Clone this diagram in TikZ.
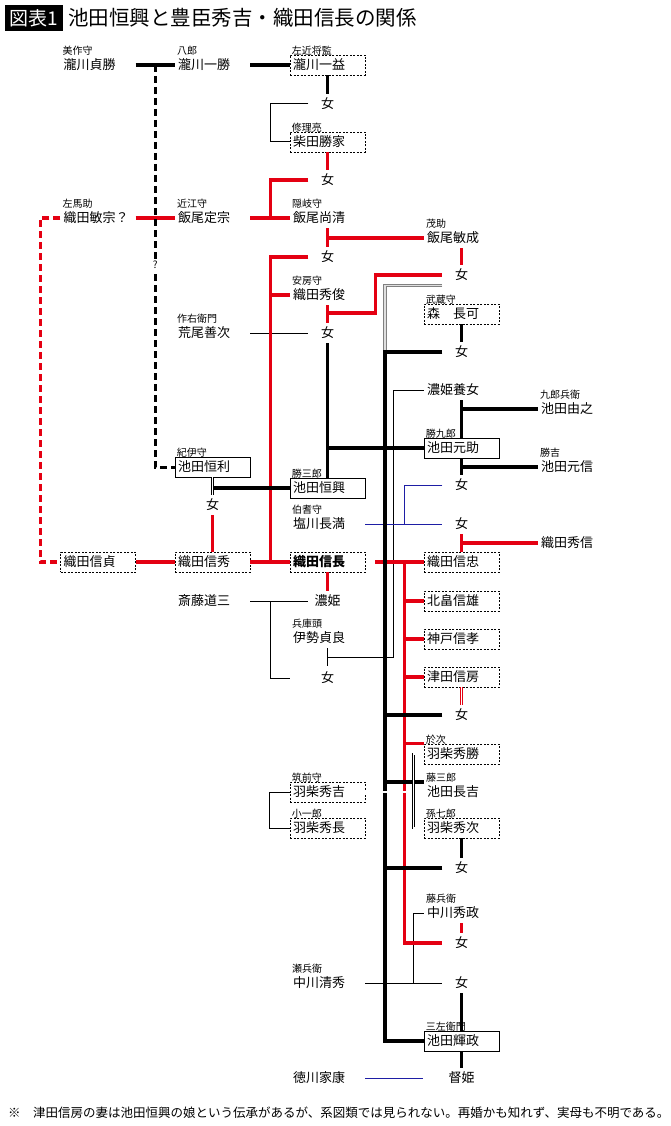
\documentclass[tikz,border=0pt]{standalone}
\usepackage{fontspec}
\setmainfont{Noto Sans CJK JP}
\usetikzlibrary{positioning}
\definecolor{jred}{RGB}{228,0,18}
\definecolor{jblue}{RGB}{30,30,165}
\newcommand\nmfont{\fontsize{13}{14}\selectfont}
\newcommand\lbfont{\fontsize{10}{11}\selectfont}

\begin{document}
\begin{tikzpicture}[x=1pt, y=-1pt,
  nm/.style={inner xsep=3pt, inner ysep=0pt, text width=69pt, align=left, minimum height=20pt, font=\nmfont},
  dbox/.style={nm, draw, line width=0.7pt, dash pattern=on 2pt off 1.5pt},
  sbox/.style={nm, draw, line width=0.7pt},
  fem/.style={inner sep=0pt, minimum width=38pt, minimum height=20pt, font=\nmfont},
  lbl/.style={anchor=west, inner sep=0pt, xshift=2pt, yshift=4pt, font=\lbfont},
  bk/.style={line width=3.6pt},
  rd/.style={line width=3.6pt, jred},
  tn/.style={line width=1pt},
  bu/.style={line width=1pt, jblue},
  dl/.style={double, double distance=1.4pt, line width=0.6pt}
  ]
  \useasboundingbox (0,0) rectangle (670,1126);
  % title
  \node[fill=black, text=white, font=\fontsize{19}{20}\selectfont, minimum width=58pt, minimum height=26pt, inner sep=0pt] (tag) at (34,18) {図表1};
  \node[anchor=west, inner sep=0pt, font=\fontsize{20.5}{22}\selectfont] (title) at (68,18) {池田恒興と豊臣秀吉・織田信長の関係};

  % column A (x 98)
  \node[nm, label={[lbl]north west:美作守}] (sadakatsu) at (98,65) {瀧川貞勝};
  \node[nm, label={[lbl]north west:左馬助}] (toshimune) at (98,218) {織田敏宗？};
  \node[dbox] (nobusada) at (98,562) {織田信貞};
  % column B (x 212.5)
  \node[nm, label={[lbl]north west:八郎}] (kazukatsu) at (212.5,65) {瀧川一勝};
  \node[nm, label={[lbl]north west:近江守}] (sadamune) at (212.5,218) {飯尾定宗};
  \node[nm, label={[lbl]north west:作右衛門}] (yoshitsugu) at (212.5,333) {荒尾善次};
  \node[sbox, label={[lbl]north west:紀伊守}] (tsunetoshi) at (212.5,467) {池田恒利};
  \node[fem] (f_tsune) at (212.5,505) {女};
  \node[dbox] (nobuhide) at (212.5,562) {織田信秀};
  \node[nm] (dosan) at (212.5,601) {斎藤道三};
  % column C (x 327.5)
  \node[dbox, label={[lbl]north west:左近将監}] (kazumasu) at (327.5,65) {瀧川一益};
  \node[fem] (f_taki) at (327.5,104) {女};
  \node[dbox, label={[lbl]north west:修理亮}] (katsuie) at (327.5,142) {柴田勝家};
  \node[fem] (f_shiba) at (327.5,180) {女};
  \node[nm, label={[lbl]north west:隠岐守}] (hisakiyo) at (327.5,218) {飯尾尚清};
  \node[fem] (f_iio) at (327.5,257) {女};
  \node[nm, label={[lbl]north west:安房守}] (hidetoshi) at (327.5,295) {織田秀俊};
  \node[fem] (f_arao) at (327.5,333) {女};
  \node[sbox, label={[lbl]north west:勝三郎}] (tsuneoki) at (327.5,488) {池田恒興};
  \node[nm, label={[lbl]north west:伯耆守}] (nagamitsu) at (327.5,524) {塩川長満};
  \node[dbox, font=\nmfont\bfseries] (nobunaga) at (327.5,562) {織田信長};
  \node[fem] (nohime) at (327.5,601) {濃姫};
  \node[nm, label={[lbl]north west:兵庫頭}] (sadayoshi) at (327.5,638) {伊勢貞良};
  \node[fem] (f_dosan) at (327.5,678) {女};
  \node[dbox, label={[lbl]north west:筑前守}] (hideyoshi) at (327.5,792) {羽柴秀吉};
  \node[dbox, label={[lbl]north west:小一郎}] (hidenaga) at (327.5,828) {羽柴秀長};
  \node[nm, label={[lbl]north west:瀬兵衛}] (kiyohide) at (327.5,983) {中川清秀};
  \node[nm] (ieyasu) at (327.5,1078) {徳川家康};
  % column D (x 461.5)
  \node[nm, label={[lbl]north west:茂助}] (toshinari) at (461.5,238) {飯尾敏成};
  \node[fem] (f_toshi) at (461.5,275) {女};
  \node[dbox, label={[lbl]north west:武蔵守}] (morinaga) at (461.5,314) {森　長可};
  \node[fem] (f_mori) at (461.5,352) {女};
  \node[nm] (yojo) at (461.5,390) {濃姫養女};
  \node[sbox, label={[lbl]north west:勝九郎}] (motosuke) at (461.5,448) {池田元助};
  \node[fem] (f_moto) at (461.5,485) {女};
  \node[fem] (f_shio) at (461.5,524) {女};
  \node[dbox] (nobutada) at (461.5,562) {織田信忠};
  \node[dbox] (nobukatsu) at (461.5,601) {北畠信雄};
  \node[dbox] (nobutaka) at (461.5,639) {神戸信孝};
  \node[dbox] (nobufusa) at (461.5,677) {津田信房};
  \node[fem] (f_fusa) at (461.5,715) {女};
  \node[dbox, label={[lbl]north west:於次}] (hidekatsu) at (461.5,754) {羽柴秀勝};
  \node[nm, label={[lbl]north west:藤三郎}] (nagayoshi) at (461.5,792) {池田長吉};
  \node[dbox, label={[lbl]north west:孫七郎}] (hidetsugu) at (461.5,828) {羽柴秀次};
  \node[fem] (f_tsugu) at (461.5,868) {女};
  \node[nm, label={[lbl]north west:藤兵衛}] (hidemasa) at (461.5,913) {中川秀政};
  \node[fem] (f_masa) at (461.5,943) {女};
  \node[fem] (f_kiyo) at (461.5,983) {女};
  \node[sbox, label={[lbl]north west:三左衛門}] (terumasa) at (461.5,1041) {池田輝政};
  \node[fem] (tokuhime) at (461.5,1078) {督姫};
  % column E (x 575.5)
  \node[nm, label={[lbl]north west:九郎兵衛}] (yoshiyuki) at (575.5,409) {池田由之};
  \node[nm, label={[lbl]north west:勝吉}] (motonobu) at (575.5,467) {池田元信};
  \node[nm] (hidenobu) at (575.5,543) {織田秀信};

  % thin lines
  \draw[tn] (f_taki.west) -- ++(-38,0) |- (katsuie.west);
  \draw[tn] (yoshitsugu.east) -- (f_arao.west);
  \draw[tn] (dosan.east) -- (nohime.west);
  \draw[tn] (dosan.east) ++(20,0) |- ([xshift=-18.5pt]f_dosan.west);
  \path (sadayoshi.south) ++(0,9) coordinate (sy);
  \draw[tn] (sadayoshi.south) -- ++(0,18);
  \draw[tn] (yojo.west) -- ++(-30,0) |- (sy);
  \draw[tn] (hideyoshi.west) -- ++(-20,0) |- (hidenaga.west);
  \draw[tn] (hidemasa.west) -- ++(-10,0) |- (f_kiyo.west);
  \draw[tn] (kiyohide.east) -- (f_kiyo.west);
  \draw[bu] (f_moto.west) -- ++(-38,0) |- (f_shio.west);
  \draw[bu] (nagamitsu.east) -- (f_shio.west);
  \draw[bu] (ieyasu.east) -- ([xshift=-19pt]tokuhime.west);

  % red lines
  \draw[rd] (katsuie.south) -- (f_shiba.north);
  \draw[rd] (f_shiba.west) -- ++(-38,0) -- ++(0,38);
  \draw[rd] (toshimune.east) -- (sadamune.west);
  \draw[rd] (sadamune.east) -- (hisakiyo.west);
  \draw[rd, dash pattern=on 7pt off 4pt] (toshimune.west) -- ++(-20,0) |- (nobusada.west);
  \draw[rd] (hisakiyo.south) -- (f_iio.north);
  \draw[rd] (hisakiyo.south |- toshinari.west) -- (toshinari.west);
  \draw[rd] (toshinari.south) -- (f_toshi.north);
  \draw[rd] (f_iio.west) -- ++(-38,0) |- (nobunaga.west);
  \draw[rd] (hidetoshi.west) -- ++(-20,0);
  \draw[rd] (hidetoshi.south) -- (f_arao.north);
  \draw[rd] (hidetoshi.south) ++(0,8) -- ++(48,0) |- (f_toshi.west);
  \draw[rd] (f_tsune.south) -- (nobuhide.north);
  \draw[rd] (nobusada.east) -- (nobuhide.west);
  \draw[rd] (nobuhide.east) -- (nobunaga.west);
  \draw[rd] (nobunaga.south) -- (nohime.north);
  \draw[rd] (f_shio.south) -- (nobutada.north);
  \draw[rd] (f_shio.south |- hidenobu.west) -- (hidenobu.west);
  \draw[rd] ([xshift=10pt]nobunaga.east) -- (nobutada.west);
  \draw[rd] (nobutada.west) ++(-19,0) |- (f_masa.west);
  \foreach \n in {nobukatsu,nobutaka,nobufusa}
    \draw[rd] (\n.west) -- ++(-19,0);
  \draw[rd] (hidekatsu.north west) -- ++(-19,0);
  \draw[rd] (hidemasa.south) -- (f_masa.north);
  \draw[dl, draw=jred] (nobufusa.south) -- (f_fusa.north);

  % black lines
  \draw[bk] (sadakatsu.east) -- coordinate[pos=.5] (tk) (kazukatsu.west);
  \draw[bk, dash pattern=on 7pt off 4pt, line width=3pt] (tk) |- (tsunetoshi.west);
  \node[font=\lbfont, fill=white, inner sep=1pt] (qm) at (155.25,265) {?};
  \draw[bk] (kazukatsu.east) -- (kazumasu.west);
  \draw[bk] (kazumasu.south) -- (f_taki.north);
  \draw[bk] (f_arao.south) -- (tsuneoki.north);
  \draw[bk] (tsuneoki.north |- motosuke.west) -- (motosuke.west);
  \draw[bk] (tsunetoshi.south |- tsuneoki.west) -- (tsuneoki.west);
  \draw[dl] (tsunetoshi.south) -- (f_tsune.north);
  \draw[bk] (morinaga.south) -- (f_mori.north);
  \draw[bk] (yojo.south) -- (motosuke.north);
  \draw[bk] (yojo.south |- yoshiyuki.west) -- (yoshiyuki.west);
  \draw[bk] (motosuke.south) -- (f_moto.north);
  \draw[bk] (motosuke.south |- motonobu.west) -- (motonobu.west);
  \draw[dl, draw=gray, double=gray!25, line width=1pt] (f_toshi.south west) -- ++(-57.5,0) -- ++(0,67);
  \draw[bk] (f_mori.west) -- ++(-57.5,0) |- (terumasa.west);
  \foreach \n in {f_fusa,f_tsugu}
    \draw[bk] (\n.west) -- ++(-57.5,0);
  \draw[bk] (nagayoshi.north west) -- ++(-38,0);
  \draw[bk] (hidetsugu.south) -- (f_tsugu.north);
  \draw[bk] (f_kiyo.south) -- (terumasa.north);
  \draw[bk] (terumasa.south) -- (tokuhime.north);
  % adoption
  \draw[dl] (hideyoshi.east) -- (nagayoshi.west);
  \draw[dl] (hidekatsu.west) -- ++(-10,0) |- (hidetsugu.west);

  % note
  \node[anchor=west, inner sep=0pt, font=\fontsize{12.5}{13}\selectfont] (note) at (8,1113) {※　津田信房の妻は池田恒興の娘という伝承があるが、系図類では見られない。再婚かも知れず、実母も不明である。};
\end{tikzpicture}
\end{document}
